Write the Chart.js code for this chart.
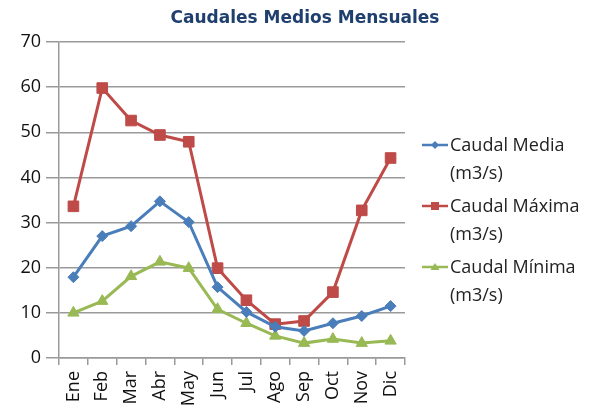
<!DOCTYPE html>
<html>
<head>
<meta charset="utf-8">
<script src="https://cdn.jsdelivr.net/npm/chart.js@4/dist/chart.umd.min.js"></script>
<style>
  html, body { margin: 0; padding: 0; background: #fff; overflow: hidden; }
  #wrap { position: relative; width: 590px; height: 412px; }
  #title { position: absolute; left: 0; top: 7px; width: 610px; text-align: center;
    font-family: "DejaVu Sans", sans-serif; font-weight: bold; font-size: 17px; color: #1F3F6E; }
  #legend { position: absolute; left: 422px; top: 131px; font-family: "Open Sans", sans-serif; font-size: 18px; color: #222; }
  .item { position: relative; padding-left: 28px; line-height: 27.5px; margin-bottom: 6px; }
  .item canvas { position: absolute; left: 0; top: 4px; }
</style>
</head>
<body>
<div id="wrap">
  <canvas id="c" width="590" height="412"></canvas>
  <div id="title">Caudales Medios Mensuales</div>
  <div id="legend"></div>
</div>
<script>
const categories = ["Ene","Feb","Mar","Abr","May","Jun","Jul","Ago","Sep","Oct","Nov","Dic"];
const seriesNames = ["Caudal Media (m3/s)", "Caudal Máxima (m3/s)", "Caudal Mínima (m3/s)"];
const caudalMedia  = [17.9, 27.0, 29.2, 34.7, 30.1, 15.7, 10.2, 6.9, 6.0, 7.7, 9.3, 11.5];
const caudalMaxima = [33.6, 59.8, 52.6, 49.4, 47.9, 19.9, 12.8, 7.5, 8.2, 14.6, 32.7, 44.3];
const caudalMinima = [10.0, 12.6, 18.1, 21.3, 19.9, 10.8, 7.7, 4.9, 3.3, 4.2, 3.3, 3.8];
const yTicks = [0, 10, 20, 30, 40, 50, 60, 70];

const colors = ["#4A7EBB", "#BE4B48", "#98B954"];
const shapes = ["rectRot", "rect", "triangle"];
const radii = [5.5, 7.5, 6.5];
const values = [caudalMedia, caudalMaxima, caudalMinima];

const datasets = seriesNames.map((n, i) => ({
  label: n,
  data: values[i],
  borderColor: colors[i],
  backgroundColor: colors[i],
  borderWidth: 3,
  pointStyle: shapes[i],
  pointRadius: radii[i],
  pointHoverRadius: radii[i],
  pointBorderWidth: 1,
  tension: 0
}));

const tickFont = { family: "Open Sans", size: 18 };

new Chart(document.getElementById("c"), {
  type: "line",
  data: { labels: categories, datasets },
  options: {
    responsive: false,
    animation: false,
    layout: { padding: { top: 42, right: 185, left: 0, bottom: 0 } },
    plugins: { legend: { display: false }, title: { display: false }, tooltip: { enabled: false } },
    scales: {
      x: {
        offset: true,
        afterFit: s => { s.height = 54; },
        grid: { offset: true, drawOnChartArea: false, drawTicks: true, tickLength: 7, color: "#9a9a9a", lineWidth: 1.5 },
        border: { color: "#9a9a9a", width: 1.5 },
        ticks: { font: tickFont, color: "#111", maxRotation: 90, minRotation: 90, padding: 6, autoSkip: false }
      },
      y: {
        min: 0, max: 70,
        afterFit: s => { s.width = 59; },
        afterBuildTicks: s => { s.ticks = yTicks.map(v => ({ value: v })); },
        grid: { color: "#9a9a9a", lineWidth: 1.5, tickLength: 13 },
        border: { color: "#9a9a9a", width: 1.5 },
        ticks: { font: tickFont, color: "#111", padding: 5 }
      }
    }
  }
});

// HTML legend built from datasets
const leg = document.getElementById("legend");
datasets.forEach((d, i) => {
  const div = document.createElement("div");
  div.className = "item";
  const cv = document.createElement("canvas");
  cv.width = 28; cv.height = 20;
  const ctx = cv.getContext("2d");
  ctx.strokeStyle = d.borderColor; ctx.lineWidth = 2.5;
  ctx.beginPath(); ctx.moveTo(0, 10); ctx.lineTo(26, 10); ctx.stroke();
  ctx.fillStyle = d.borderColor;
  ctx.beginPath();
  if (i === 0) { ctx.moveTo(13, 6); ctx.lineTo(17, 10); ctx.lineTo(13, 14); ctx.lineTo(9, 10); }
  else if (i === 1) { ctx.rect(9, 6, 8, 8); }
  else { ctx.moveTo(13, 6); ctx.lineTo(17.5, 13); ctx.lineTo(8.5, 13); }
  ctx.closePath(); ctx.fill();
  div.appendChild(cv);
  const parts = d.label.split(" (");
  const t = document.createElement("div");
  t.innerHTML = parts[0] + "<br>(" + parts[1];
  div.appendChild(t);
  leg.appendChild(div);
});
</script>
</body>
</html>
